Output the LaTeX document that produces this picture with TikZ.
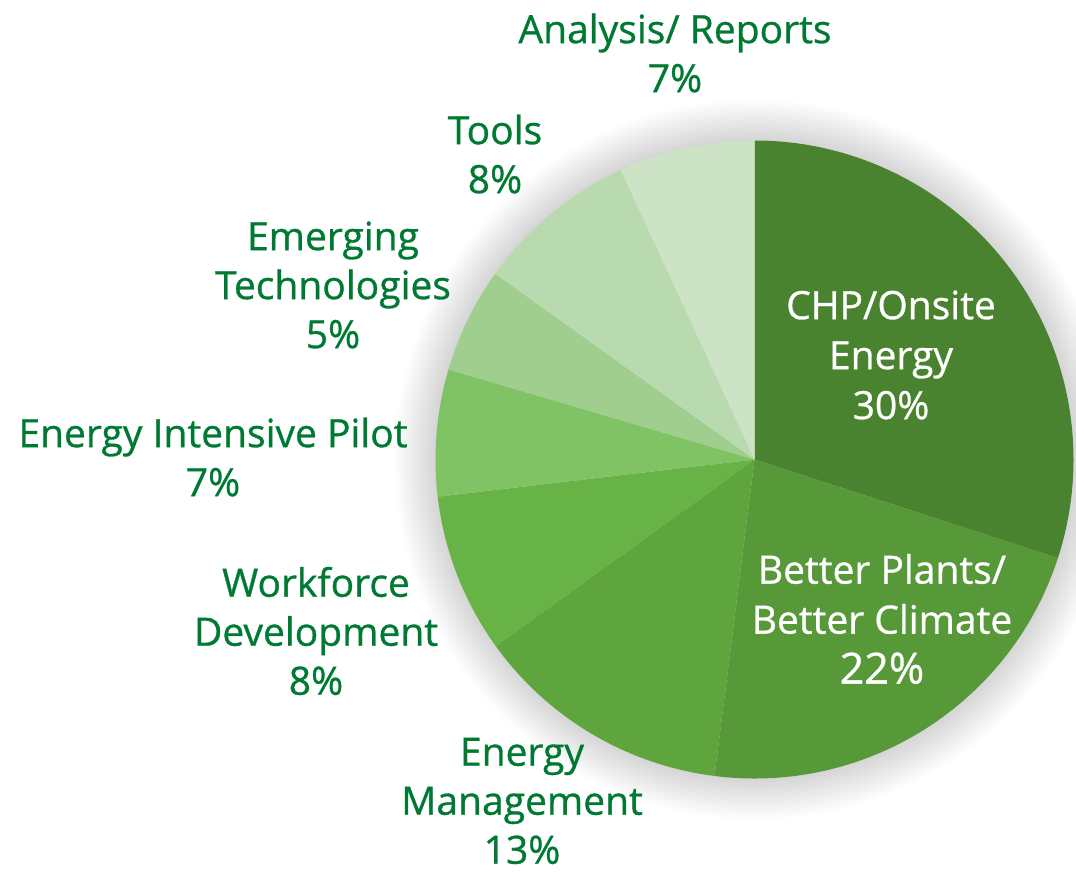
\documentclass[tikz,border=0pt]{standalone}
\usepackage{fontspec}
\setmainfont{Open Sans}[FakeBold=0.8]
\definecolor{lbl}{RGB}{0,122,51}
\definecolor{cA}{RGB}{74,131,47}
\definecolor{cB}{RGB}{87,153,57}
\definecolor{cC}{RGB}{93,165,60}
\definecolor{cD}{RGB}{103,179,70}
\definecolor{cE}{RGB}{128,195,100}
\definecolor{cF}{RGB}{159,206,143}
\definecolor{cG}{RGB}{184,218,174}
\definecolor{cH}{RGB}{205,227,198}
\tikzset{
  lab/.style={align=center,text=lbl,font=\fontsize{39}{49}\selectfont,inner sep=0pt},
  inlab/.style={align=center,text=white,font=\fontsize{39}{50}\selectfont,inner sep=0pt},
}
\newcommand{\Rr}{319}
\begin{document}
\begin{tikzpicture}[x=1pt,y=1pt]
\useasboundingbox (0,0) rectangle (1076,-872);
\coordinate (C) at (754.5,-459.5);
% soft shadow
\foreach \k in {1,3,...,41}{
  \fill[black,opacity=0.0075] (C) circle ({\Rr+\k});
}
% slices
\fill[cA] (C) -- ++(90:\Rr) arc[start angle=90,end angle=-18,radius=\Rr] -- cycle;
\fill[cB] (C) -- ++(-18:\Rr) arc[start angle=-18,end angle=-97.2,radius=\Rr] -- cycle;
\fill[cC] (C) -- ++(-97.2:\Rr) arc[start angle=-97.2,end angle=-144.2,radius=\Rr] -- cycle;
\fill[cD] (C) -- ++(-144.2:\Rr) arc[start angle=-144.2,end angle=-173.3,radius=\Rr] -- cycle;
\fill[cE] (C) -- ++(-173.3:\Rr) arc[start angle=-173.3,end angle=-196.4,radius=\Rr] -- cycle;
\fill[cF] (C) -- ++(-196.4:\Rr) arc[start angle=-196.4,end angle=-215.6,radius=\Rr] -- cycle;
\fill[cG] (C) -- ++(-215.6:\Rr) arc[start angle=-215.6,end angle=-245.2,radius=\Rr] -- cycle;
\fill[cH] (C) -- ++(-245.2:\Rr) arc[start angle=-245.2,end angle=-270,radius=\Rr] -- cycle;
% labels
\node[lab] (analysis) at (675,-53) {Analysis/ Reports\\7\%};
\node[lab] (tools) at (495,-154) {Tools\\8\%};
\node[lab] (emerging) at (333,-285) {Emerging\\Technologies\\5\%};
\node[lab] (pilot) at (213,-457) {Energy Intensive Pilot\\7\%};
\node[lab] (workforce) at (316,-631) {Workforce\\Development\\8\%};
\node[lab] (mgmt) at (522,-801) {Energy\\Management\\13\%};
\node[inlab] (chp) at (891,-355) {CHP/Onsite\\Energy\\30\%};
\node[inlab] (better) at (882,-619) {Better Plants/\\Better Climate\\{\fontsize{43}{50}\selectfont 22\%}};
\end{tikzpicture}
\end{document}
